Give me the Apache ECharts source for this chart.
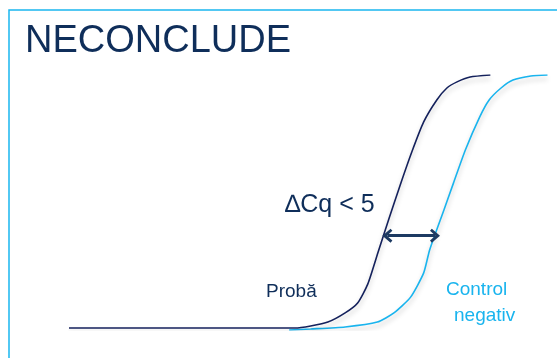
<!DOCTYPE html>
<html>
<head>
<meta charset="utf-8">
<script src="https://cdn.jsdelivr.net/npm/echarts@6/dist/echarts.min.js"></script>
<style>
  html, body { margin: 0; padding: 0; background: #fff; }
  #chart { width: 557px; height: 358px; }
</style>
</head>
<body>
<div id="chart"></div>
<script>
// curbele de amplificare (ciclu, fluorescenta relativa)
var probaCycles = [0, 17.6, 19.0, 20.3, 21.75, 23.2, 24.25, 25.1, 26.0, 26.9, 27.8, 28.8, 29.8, 30.9, 31.75, 32.6, 33.7, 35.4];
var probaValues = [0.8, 0.8, 0.8, 1.6, 3.1, 6.7, 10.6, 18.0, 31.0, 43.9, 56.5, 69.8, 81.6, 90.2, 94.9, 97.3, 99.2, 100];

var controlCycles = [18.5, 20.3, 23.2, 25.9, 27.3, 28.7, 29.8, 30.3, 31.5, 32.3, 33.3, 34.5, 35.3, 36.3, 37.3, 38.8, 40.2];
var controlValues = [0, 0.4, 1.2, 3.1, 6.7, 12.9, 22.4, 31.4, 47.1, 57.6, 70.6, 83.5, 90.2, 94.9, 98.0, 99.6, 100];

// sageata dCq intre curbe
var arrowFrom = 26.75;
var arrowTo = 30.75;
var arrowLevel = 37;

var labels = {
  title: 'NECONCLUDE',
  delta: '\u2206Cq < 5',
  proba: 'Probă',
  control: 'Control',
  negativ: 'negativ'
};

function pairs(xs, ys) {
  var out = [];
  for (var i = 0; i < xs.length; i++) {
    out.push([xs[i], ys[i]]);
  }
  return out;
}

var navy = '#14215c';
var cyan = '#19b4ee';
var textNavy = '#0f2e5a';
var chevron = 'path://M8,0 L16,9 L13.5,11 L8,5 L2.5,11 L0,9 Z';

var myChart = echarts.init(document.getElementById('chart'));

var option = {
  backgroundColor: '#ffffff',
  animation: false,
  grid: { left: 69, top: 75, width: 492, height: 255 },
  xAxis: { type: 'value', min: 0, max: 41, show: false },
  yAxis: { type: 'value', min: 0, max: 100, show: false },
  graphic: [
    {
      type: 'rect',
      shape: { x: 9, y: 10, width: 620, height: 420 },
      style: { fill: 'none', stroke: '#1ab6f0', lineWidth: 1.5 }
    },
    {
      type: 'text', x: 25, y: 42,
      style: { text: labels.title, font: '38px "Liberation Sans", Arial, sans-serif', fill: textNavy, verticalAlign: 'middle' }
    },
    {
      type: 'text', x: 285, y: 205,
      style: { text: labels.delta, font: '25px "Liberation Sans", Arial, sans-serif', fill: textNavy, verticalAlign: 'middle' }
    },
    {
      type: 'text', x: 266, y: 291.5,
      style: { text: labels.proba, font: '19px "Liberation Sans", Arial, sans-serif', fill: textNavy, verticalAlign: 'middle' }
    },
    {
      type: 'text', x: 446, y: 290,
      style: { text: labels.control, font: '19px "Liberation Sans", Arial, sans-serif', fill: cyan, verticalAlign: 'middle' }
    },
    {
      type: 'text', x: 454, y: 316,
      style: { text: labels.negativ, font: '19px "Liberation Sans", Arial, sans-serif', fill: cyan, verticalAlign: 'middle' }
    }
  ],
  series: [
    {
      name: 'Control negativ',
      type: 'line',
      smooth: 0.2,
      showSymbol: false,
      data: pairs(controlCycles, controlValues),
      lineStyle: {
        color: cyan, width: 1.6,
        shadowColor: 'rgba(0,0,0,0.22)', shadowBlur: 5, shadowOffsetY: 4
      }
    },
    {
      name: 'Probă',
      type: 'line',
      smooth: 0.2,
      showSymbol: false,
      data: pairs(probaCycles, probaValues),
      lineStyle: {
        color: navy, width: 1.6,
        shadowColor: 'rgba(0,0,0,0.22)', shadowBlur: 5, shadowOffsetY: 4
      },
      markLine: {
        silent: true,
        symbol: [chevron, chevron],
        symbolSize: [14, 10],
        label: { show: false },
        lineStyle: { color: '#1d3a62', width: 3, type: 'solid' },
        data: [[
          { coord: [arrowFrom, arrowLevel] },
          { coord: [arrowTo, arrowLevel] }
        ]]
      }
    }
  ]
};

myChart.setOption(option);
</script>
</body>
</html>
